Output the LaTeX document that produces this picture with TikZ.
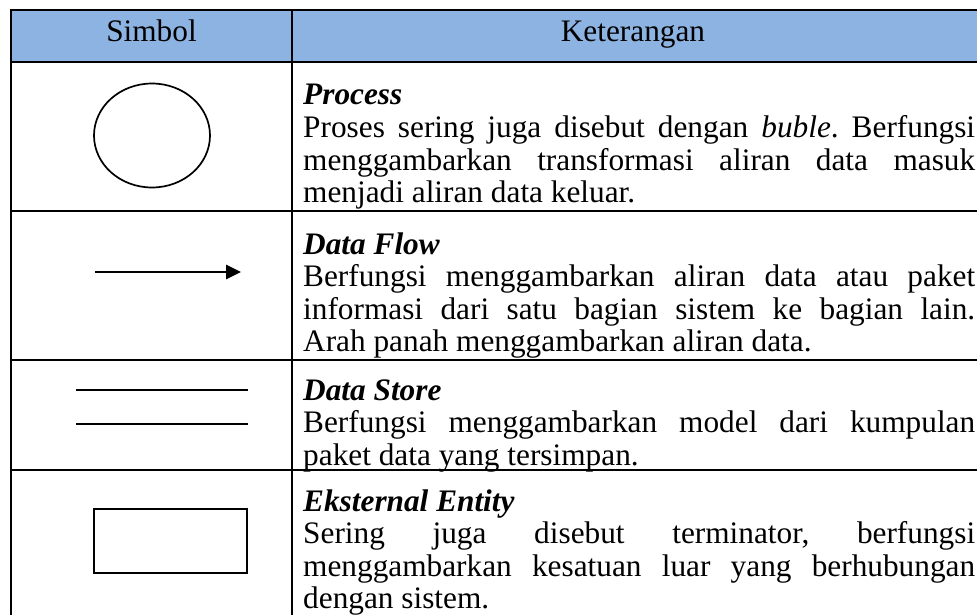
\documentclass[tikz,border=0pt]{standalone}
\usepackage{fontspec}
\setmainfont{Liberation Serif}
\usetikzlibrary{arrows.meta,shapes.geometric}
\definecolor{headblue}{HTML}{8DB3E2}
\tolerance=10000
\hyphenpenalty=10000
\exhyphenpenalty=10000
\frenchspacing
\begin{document}
\begin{tikzpicture}[x=1pt,y=-1pt,
  rule/.style={line width=2.6pt},
  symline/.style={line width=1.7pt},
  headtext/.style={inner sep=0pt,anchor=base,font=\fontsize{31.3}{32.5}\selectfont},
  titletext/.style={inner sep=0pt,anchor=base west,font=\fontsize{31.3}{32.5}\selectfont\bfseries\itshape},
  bodytext/.style={inner sep=0pt,anchor=base west,text width=672pt,align=justify,
    font=\fontsize{31.3}{32.5}\selectfont},
]
\useasboundingbox (0,0) rectangle (977,615);
\clip (0,0) rectangle (977,615);

% header band
\fill[headblue] (11,10) rectangle (995,62);

% table rules
\draw[rule] (995,10) -- (11,10) -- (11,640);
\draw[rule] (292,10) -- (292,640);
\draw[rule] (11,62) -- (995,62);
\draw[rule] (11,211) -- (995,211);
\draw[rule] (11,360) -- (995,360);
\draw[rule] (11,470) -- (995,470);

% header labels
\node[headtext] (hsym) at (151.5,42) {Simbol};
\node[headtext] (hket) at (633,42) {Keterangan};

% symbols
\node[draw,ellipse,symline,inner sep=0pt,minimum width=116pt,minimum height=104pt] (proc) at (152,135.5) {};

\coordinate (flowA) at (95,272);
\coordinate (flowB) at (241,272);
\draw[symline,-{Triangle[length=15pt,width=14.5pt]}] (flowA) -- (flowB);

\coordinate (storeAa) at (76,390);
\coordinate (storeAb) at (248,390);
\coordinate (storeBa) at (76,424);
\coordinate (storeBb) at (248,424);
\draw[symline] (storeAa) -- (storeAb);
\draw[symline] (storeBa) -- (storeBb);

\node[draw,symline,inner sep=0pt,minimum width=153pt,minimum height=64pt] (ent) at (170.5,541) {};

% descriptions
\node[titletext] (t1) at (303,105) {Process};
\node[bodytext] (b1) at (303,137.5) {Proses sering juga disebut dengan \textit{buble}. Berfungsi\linebreak
menggambarkan transformasi aliran data masuk\linebreak
menjadi aliran data keluar.};

\node[titletext] (t2) at (303,254) {Data Flow};
\node[bodytext] (b2) at (303,286.5) {Berfungsi menggambarkan aliran data atau paket\linebreak
informasi dari satu bagian sistem ke bagian lain.\linebreak
Arah panah menggambarkan aliran data.};

\node[titletext] (t3) at (303,400) {Data Store};
\node[bodytext] (b3) at (303,432.5) {Berfungsi menggambarkan model dari kumpulan\linebreak
paket data yang tersimpan.};

\node[titletext] (t4) at (303,511) {Eksternal Entity};
\node[bodytext] (b4) at (303,543.5) {Sering juga disebut terminator, berfungsi\linebreak
menggambarkan kesatuan luar yang berhubungan\linebreak
dengan sistem.};
\end{tikzpicture}
\end{document}
